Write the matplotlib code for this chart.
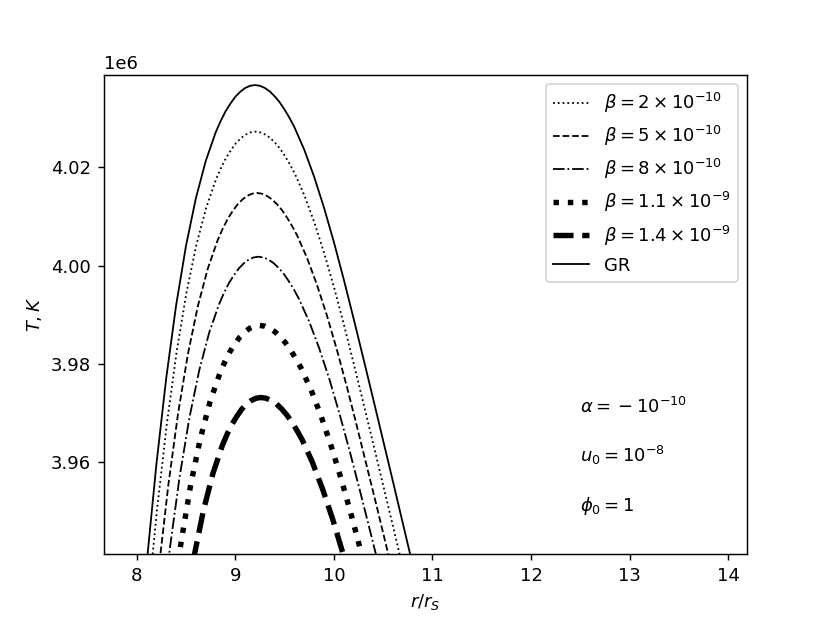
import matplotlib
matplotlib.use("Agg")
import matplotlib.pyplot as plt

# ---- data (r in units of r_S, T in 1e6 K) ----
r_gr = [8.1, 8.2, 8.3, 8.4, 8.5, 8.6, 8.7, 8.8, 8.85, 8.9, 8.95, 9.0, 9.05, 9.1, 9.15, 9.2,
        9.25, 9.3, 9.35, 9.4, 9.45, 9.5, 9.55, 9.6, 9.7, 9.8, 9.9, 10.0, 10.1, 10.2, 10.3,
        10.4, 10.5, 10.6, 10.7, 10.8]
T_gr = [3.9390, 3.9595, 3.9771, 3.9919, 4.0040, 4.0137, 4.0213, 4.0271, 4.0294, 4.0314,
        4.0330, 4.0344, 4.03543, 4.0362, 4.03665, 4.0368, 4.03665, 4.0362, 4.0355, 4.0345,
        4.0333, 4.0318, 4.0301, 4.0282, 4.0236, 4.0181, 4.0118, 4.0048, 3.9972, 3.9892,
        3.9810, 3.9727, 3.9643, 3.9559, 3.9474, 3.9389]

r_b2 = [8.105, 8.205, 8.305, 8.405, 8.505, 8.605, 8.705, 8.805, 8.855, 8.905, 8.955, 9.005,
        9.055, 9.105, 9.155, 9.205, 9.255, 9.305, 9.355, 9.405, 9.455, 9.505, 9.555, 9.605,
        9.705, 9.805, 9.905, 10.005, 10.105, 10.205, 10.305, 10.405, 10.505, 10.605, 10.705]
T_b2 = [3.9295, 3.9500, 3.9676, 3.9824, 3.9945, 4.0042, 4.0118, 4.0176, 4.0199, 4.0219,
        4.0235, 4.0249, 4.02593, 4.0267, 4.02715, 4.0273, 4.02715, 4.0267, 4.0260, 4.0250,
        4.0238, 4.0223, 4.0206, 4.0187, 4.0141, 4.0086, 4.0023, 3.9953, 3.9877, 3.9797,
        3.9715, 3.9632, 3.9548, 3.9464, 3.9379]

r_b5 = [8.22, 8.32, 8.42, 8.52, 8.62, 8.72, 8.82, 8.87, 8.92, 8.97, 9.02, 9.07, 9.12, 9.17,
        9.22, 9.271, 9.321, 9.372, 9.423, 9.474, 9.524, 9.575, 9.626, 9.727, 9.828, 9.930,
        10.031, 10.133, 10.234, 10.335, 10.437, 10.538, 10.640]
T_b5 = [3.9375, 3.9551, 3.9699, 3.9820, 3.9917, 3.9993, 4.0051, 4.0074, 4.0094, 4.0110,
        4.0124, 4.01343, 4.0142, 4.01465, 4.0148, 4.01465, 4.0142, 4.0135, 4.0125, 4.0113,
        4.0098, 4.0081, 4.0062, 4.0016, 3.9961, 3.9898, 3.9828, 3.9752, 3.9672, 3.9590,
        3.9507, 3.9423, 3.9339]

r_b8 = [8.235, 8.335, 8.435, 8.535, 8.635, 8.735, 8.835, 8.885, 8.935, 8.985, 9.035, 9.085,
        9.135, 9.185, 9.235, 9.286, 9.338, 9.389, 9.441, 9.492, 9.543, 9.595, 9.646, 9.749,
        9.852, 9.955, 10.057, 10.160, 10.263, 10.366, 10.469]
T_b8 = [3.9245, 3.9421, 3.9569, 3.9690, 3.9787, 3.9863, 3.9921, 3.9944, 3.9964, 3.9980,
        3.9994, 4.00043, 4.0012, 4.00165, 4.0018, 4.00165, 4.0012, 4.0005, 3.9995, 3.9983,
        3.9968, 3.9951, 3.9932, 3.9886, 3.9831, 3.9768, 3.9698, 3.9622, 3.9542, 3.9460, 3.9377]

r_b11 = [8.345, 8.445, 8.545, 8.645, 8.745, 8.845, 8.895, 8.945, 8.995, 9.045, 9.095, 9.145,
         9.195, 9.245, 9.297, 9.350, 9.402, 9.455, 9.507, 9.560, 9.612, 9.665, 9.770, 9.874,
         9.979, 10.084, 10.189, 10.294, 10.399]
T_b11 = [3.9281, 3.9429, 3.9550, 3.9647, 3.9723, 3.9781, 3.9804, 3.9824, 3.9840, 3.9854,
         3.98643, 3.9872, 3.98765, 3.9878, 3.98765, 3.9872, 3.9865, 3.9855, 3.9843, 3.9828,
         3.9811, 3.9792, 3.9746, 3.9691, 3.9628, 3.9558, 3.9482, 3.9402, 3.9320]

r_b14 = [8.481, 8.578, 8.676, 8.773, 8.870, 8.919, 8.968, 9.017, 9.065, 9.114, 9.163, 9.211,
         9.260, 9.312, 9.364, 9.417, 9.469, 9.521, 9.573, 9.625, 9.678, 9.782, 9.886, 9.991,
         10.095, 10.200]
T_b14 = [3.9282, 3.9403, 3.9500, 3.9576, 3.9634, 3.9657, 3.9677, 3.9693, 3.9707, 3.97173,
         3.9725, 3.97295, 3.9731, 3.97295, 3.9725, 3.9718, 3.9708, 3.9696, 3.9681, 3.9664,
         3.9645, 3.9599, 3.9544, 3.9481, 3.9411, 3.9335]

labels = [r'$\beta = 2\times10^{-10}$', r'$\beta = 5\times10^{-10}$', r'$\beta = 8\times10^{-10}$',
          r'$\beta = 1.1\times10^{-9}$', r'$\beta = 1.4\times10^{-9}$', 'GR']
params = [r'$\alpha = {}-{}10^{-10}$', r'$u_0 = 10^{-8}$', r'$\phi_0 = 1$']
param_r = 12.5
param_T = [3.97, 3.96, 3.95]

fig = plt.figure(figsize=(830 / 130, 623 / 130), dpi=130)
ax = fig.add_subplot(111)

series = [(r_b2, T_b2, ':', 1.0), (r_b5, T_b5, '--', 1.0), (r_b8, T_b8, '-.', 1.0),
          (r_b11, T_b11, ':', 3.0), (r_b14, T_b14, '--', 3.0), (r_gr, T_gr, '-', 1.0)]
for (r, T, ls, lw), lab in zip(series, labels):
    ax.plot(r, [t * 1e6 for t in T], color='black', linestyle=ls, linewidth=lw, label=lab)

for txt, t in zip(params, param_T):
    ax.text(param_r, t * 1e6, txt, fontsize=10)

ax.set_xlim(7.666, 14.19)
ax.set_ylim(3.9411e6, 4.0389e6)
ax.set_xlabel(r'$r/r_S$')
ax.set_ylabel(r'$T, K$')
ax.legend(loc='upper right')

fig.savefig('out.png', dpi=130)
